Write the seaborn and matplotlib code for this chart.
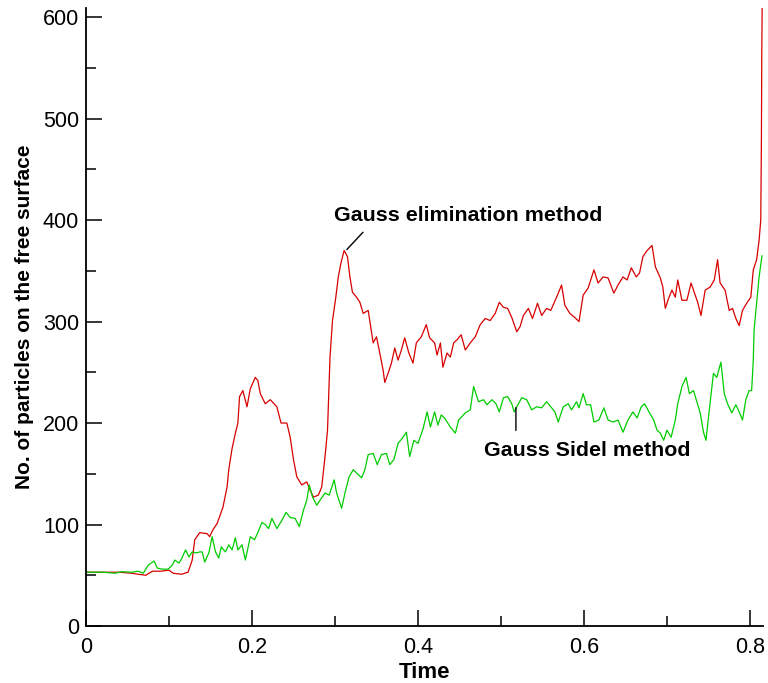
import matplotlib
matplotlib.use("Agg")
import matplotlib.pyplot as plt
from matplotlib.ticker import MultipleLocator
import seaborn as sns
import pandas as pd

# ---- data ----
ge_time = [0.000, 0.020, 0.040, 0.055, 0.063, 0.072, 0.080, 0.090, 0.100, 0.105,
           0.115, 0.123, 0.128, 0.131, 0.137, 0.146, 0.149, 0.153, 0.158, 0.162,
           0.165, 0.170, 0.172, 0.176, 0.180, 0.183, 0.185, 0.189, 0.194, 0.198,
           0.204, 0.207, 0.210, 0.216, 0.222, 0.230, 0.235, 0.242, 0.246, 0.250,
           0.254, 0.260, 0.266, 0.270, 0.274, 0.280, 0.284, 0.288, 0.291, 0.294,
           0.297, 0.301, 0.304, 0.307, 0.311, 0.315, 0.318, 0.321, 0.326, 0.330,
           0.334, 0.340, 0.343, 0.346, 0.350, 0.354, 0.358, 0.360, 0.364, 0.368,
           0.372, 0.376, 0.380, 0.384, 0.389, 0.394, 0.398, 0.404, 0.410, 0.414,
           0.420, 0.423, 0.427, 0.430, 0.435, 0.439, 0.443, 0.447, 0.452, 0.457,
           0.463, 0.469, 0.475, 0.481, 0.487, 0.493, 0.498, 0.503, 0.508, 0.513,
           0.519, 0.523, 0.527, 0.533, 0.538, 0.544, 0.549, 0.555, 0.560, 0.567,
           0.573, 0.577, 0.583, 0.589, 0.594, 0.599, 0.605, 0.612, 0.617, 0.623,
           0.629, 0.636, 0.641, 0.647, 0.652, 0.657, 0.663, 0.667, 0.671, 0.676,
           0.682, 0.686, 0.692, 0.695, 0.698, 0.702, 0.706, 0.710, 0.713, 0.718,
           0.724, 0.729, 0.734, 0.737, 0.741, 0.746, 0.752, 0.757, 0.761, 0.764,
           0.770, 0.775, 0.779, 0.783, 0.787, 0.791, 0.796, 0.801, 0.804, 0.808,
           0.811, 0.813, 0.8138, 0.8142, 0.8147]
ge_count = [53, 53, 53, 52, 51, 50, 54, 54, 55, 52,
            51, 53, 65, 85, 92, 91, 88, 95, 101, 110,
            117, 137, 154, 175, 190, 200, 226, 232, 216, 234,
            245, 242, 229, 219, 223, 216, 200, 200, 186, 164,
            147, 139, 142, 134, 127, 129, 137, 167, 193, 265,
            301, 324, 344, 357, 370, 364, 344, 329, 324, 319,
            308, 311, 295, 279, 285, 269, 252, 240, 249, 259,
            274, 262, 272, 284, 269, 259, 279, 285, 297, 284,
            279, 267, 279, 255, 269, 265, 279, 282, 287, 272,
            279, 285, 297, 303, 301, 308, 319, 314, 313, 304,
            290, 295, 306, 313, 303, 318, 306, 313, 311, 324,
            336, 316, 308, 304, 300, 326, 333, 351, 338, 344,
            343, 328, 336, 344, 341, 353, 344, 348, 364, 370,
            375, 354, 343, 334, 313, 323, 331, 324, 341, 321,
            321, 338, 326, 319, 306, 331, 334, 341, 361, 338,
            331, 311, 313, 303, 296, 311, 318, 324, 351, 361,
            380, 400, 480, 560, 612]

gs_time = [0.000, 0.020, 0.035, 0.043, 0.055, 0.063, 0.069, 0.075, 0.082, 0.086,
           0.092, 0.099, 0.104, 0.107, 0.112, 0.115, 0.120, 0.124, 0.128, 0.133,
           0.137, 0.140, 0.143, 0.148, 0.152, 0.156, 0.160, 0.163, 0.168, 0.172,
           0.176, 0.180, 0.183, 0.188, 0.192, 0.198, 0.203, 0.207, 0.212, 0.216,
           0.220, 0.224, 0.230, 0.236, 0.241, 0.246, 0.252, 0.257, 0.262, 0.266,
           0.269, 0.273, 0.278, 0.282, 0.288, 0.293, 0.299, 0.302, 0.308, 0.312,
           0.317, 0.322, 0.327, 0.332, 0.336, 0.340, 0.346, 0.351, 0.356, 0.362,
           0.366, 0.371, 0.376, 0.381, 0.386, 0.390, 0.395, 0.400, 0.406, 0.411,
           0.415, 0.420, 0.424, 0.428, 0.432, 0.439, 0.445, 0.449, 0.457, 0.463,
           0.467, 0.473, 0.479, 0.483, 0.489, 0.494, 0.498, 0.503, 0.508, 0.513,
           0.516, 0.521, 0.525, 0.531, 0.537, 0.543, 0.549, 0.555, 0.560, 0.565,
           0.569, 0.575, 0.581, 0.585, 0.591, 0.594, 0.599, 0.603, 0.608, 0.612,
           0.618, 0.624, 0.629, 0.635, 0.641, 0.647, 0.653, 0.659, 0.664, 0.669,
           0.673, 0.679, 0.684, 0.688, 0.692, 0.696, 0.700, 0.705, 0.710, 0.713,
           0.718, 0.723, 0.727, 0.732, 0.736, 0.740, 0.744, 0.747, 0.751, 0.756,
           0.760, 0.765, 0.769, 0.773, 0.778, 0.783, 0.787, 0.791, 0.795, 0.799,
           0.802, 0.804, 0.805, 0.808, 0.811, 0.8145]
gs_count = [53, 53, 52, 53.5, 53, 54, 52, 60, 64, 57,
            56, 56, 60, 65, 62, 66, 75, 68, 73, 72,
            73, 73, 63, 72, 88, 73, 67, 78, 73, 80,
            75, 87, 75, 80, 65, 88, 85, 92, 102, 100,
            96, 106, 96, 104, 112, 107, 106, 98, 114, 124,
            139, 127, 119, 124, 131, 129, 144, 131, 116, 131,
            147, 154, 150, 146, 154, 169, 170, 159, 169, 170,
            159, 164, 180, 185, 191, 167, 183, 180, 194, 211,
            196, 211, 198, 208, 205, 196, 190, 203, 210, 213,
            236, 221, 223, 218, 223, 219, 211, 225, 226, 219,
            211, 219, 225, 223, 213, 216, 215, 221, 216, 211,
            201, 216, 219, 213, 221, 215, 229, 218, 218, 201,
            203, 215, 203, 201, 203, 191, 203, 211, 205, 216,
            219, 210, 203, 193, 190, 183, 193, 186, 203, 219,
            236, 245, 229, 232, 221, 210, 191, 183, 213, 249,
            245, 260, 229, 219, 210, 218, 211, 203, 223, 232,
            232, 262, 292, 318, 344, 365]

x_ticks = [0, 0.2, 0.4, 0.6, 0.8]
x_tick_labels = ["0", "0.2", "0.4", "0.6", "0.8"]
y_ticks = [0, 100, 200, 300, 400, 500, 600]

df = pd.concat([
    pd.DataFrame({"Time": ge_time, "count": ge_count, "method": "Gauss elimination method"}),
    pd.DataFrame({"Time": gs_time, "count": gs_count, "method": "Gauss Sidel method"}),
], ignore_index=True)

sns.set_style("ticks")
plt.rcParams["font.family"] = ["Liberation Sans", "DejaVu Sans"]
plt.rcParams["text.color"] = "black"
plt.rcParams["axes.labelcolor"] = "black"

fig = plt.figure(figsize=(7.68, 6.83), dpi=100)
ax = fig.add_axes([86 / 768, 57 / 683, (763 - 86) / 768, (626 - 8) / 683])

palette = {"Gauss elimination method": "#d80000", "Gauss Sidel method": "#00cc00"}
sns.lineplot(data=df, x="Time", y="count", hue="method", palette=palette,
             estimator=None, sort=False, linewidth=0.9, legend=False, ax=ax)

ax.set_xlim(0, 0.8157)
ax.set_ylim(0, 609)
ax.set_xticks(x_ticks)
ax.set_xticklabels(x_tick_labels)
ax.set_yticks(y_ticks)
ax.xaxis.set_minor_locator(MultipleLocator(0.1))
ax.yaxis.set_minor_locator(MultipleLocator(50))

for s in ["top", "right"]:
    ax.spines[s].set_visible(False)
for s in ["left", "bottom"]:
    ax.spines[s].set_linewidth(1.3)
    ax.spines[s].set_color("black")

ax.tick_params(axis="both", which="major", direction="in", length=11.5, width=1.1,
               labelsize=15.5, colors="black")
ax.tick_params(axis="both", which="minor", direction="in", length=7, width=1.1, colors="black")
ax.tick_params(axis="x", which="major", pad=8)
ax.tick_params(axis="y", which="major", pad=5)

ax.set_xlabel("Time", fontsize=16, fontweight="bold", labelpad=3)
ax.set_ylabel("No. of particles on the free surface", fontsize=15, fontweight="bold", labelpad=6)

# annotations
ax.annotate("", xy=(0.312, 369), xytext=(0.336, 390),
            arrowprops=dict(arrowstyle="-", color="black", lw=1.0))
ax.text(0.299, 405, "Gauss elimination method", fontsize=15.4, fontweight="bold",
        ha="left", va="center")
ax.annotate("", xy=(0.518, 218), xytext=(0.518, 190),
            arrowprops=dict(arrowstyle="-", color="black", lw=1.0))
ax.text(0.4795, 173, "Gauss Sidel method", fontsize=15.4, fontweight="bold",
        ha="left", va="center")

fig.savefig("out.png", dpi=100)
